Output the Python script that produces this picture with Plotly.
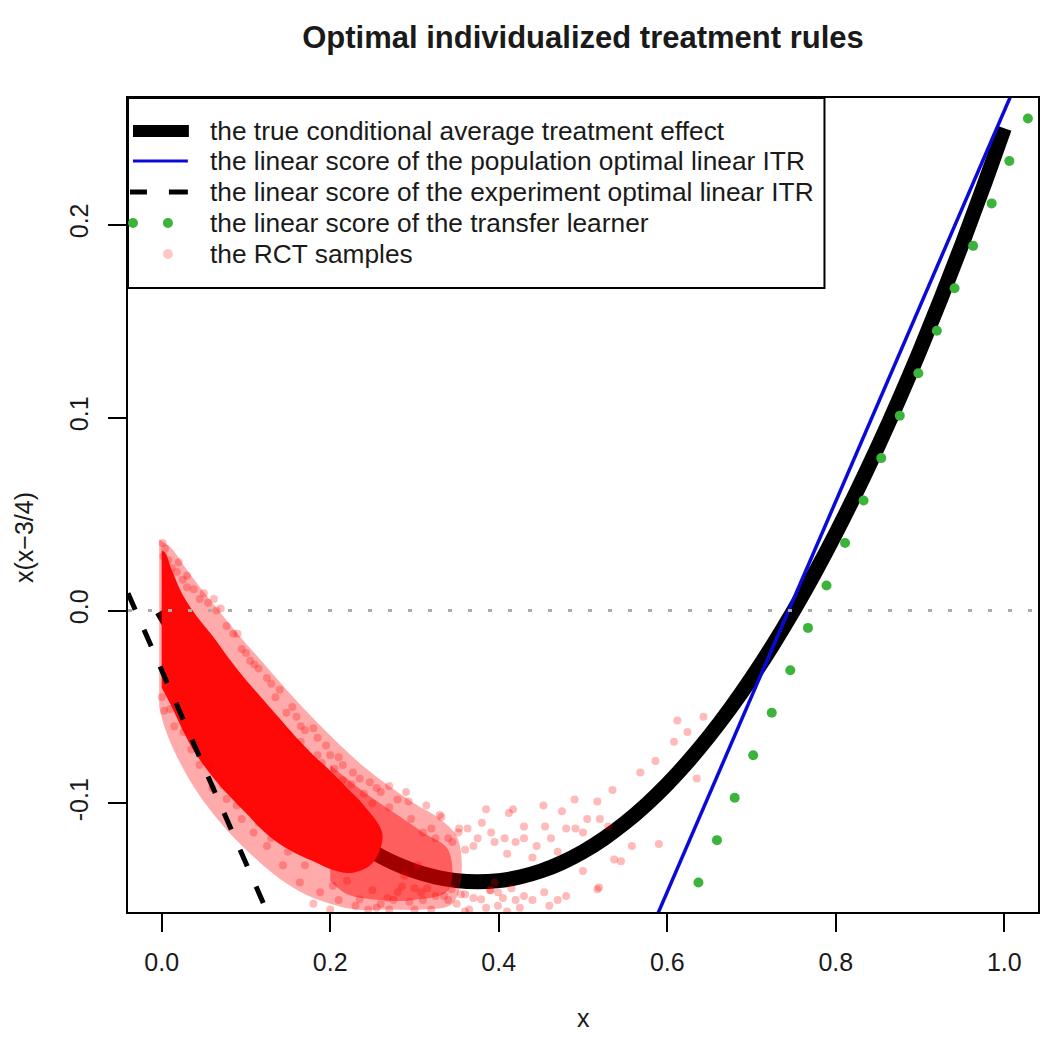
import plotly.graph_objects as go

# ---------------- data ----------------
# true conditional average treatment effect x(x-3/4)
cate_x = [0, 0.025, 0.05, 0.075, 0.1, 0.125, 0.15, 0.175, 0.2, 0.225, 0.25, 0.275, 0.3, 0.325,
          0.35, 0.375, 0.4, 0.425, 0.45, 0.475, 0.5, 0.525, 0.55, 0.575, 0.6, 0.625, 0.65, 0.675,
          0.7, 0.725, 0.75, 0.775, 0.8, 0.825, 0.85, 0.875, 0.9, 0.925, 0.95, 0.975, 1.0]
cate_y = [0, -0.018125, -0.035, -0.050625, -0.065, -0.078125, -0.09, -0.100625, -0.11, -0.118125,
          -0.125, -0.130625, -0.135, -0.138125, -0.14, -0.140625, -0.14, -0.138125, -0.135,
          -0.130625, -0.125, -0.118125, -0.11, -0.100625, -0.09, -0.078125, -0.065, -0.050625,
          -0.035, -0.018125, 0, 0.019375, 0.04, 0.061875, 0.085, 0.109375, 0.135, 0.161875,
          0.19, 0.219375, 0.25]

# linear scores (intercept, slope)
pop_intercept, pop_slope = -0.753, 1.012      # population optimal linear ITR (blue)
exp_intercept, exp_slope = -0.031, -1.0       # experiment optimal linear ITR (dashed)

# transfer learner linear score (green dots)
tl_x = [0.637, 0.659, 0.680, 0.702, 0.724, 0.746, 0.767, 0.789, 0.811, 0.833, 0.854, 0.876,
        0.898, 0.920, 0.941, 0.963, 0.985, 1.006, 1.028]
tl_y = [-0.141, -0.119, -0.097, -0.075, -0.053, -0.031, -0.009, 0.013, 0.035, 0.057, 0.079,
        0.101, 0.123, 0.145, 0.167, 0.189, 0.211, 0.233, 0.255]

# RCT samples: outer fringe of the cloud
halo_x = [-0.003, 0.010, 0.030, 0.060, 0.090, 0.120, 0.150, 0.180, 0.210, 0.240, 0.270, 0.300,
          0.330, 0.350, 0.356, 0.345, 0.310, 0.270, 0.230, 0.200, 0.170, 0.140, 0.110, 0.080,
          0.055, 0.032, 0.014, 0.003, -0.003]
halo_y = [0.037, 0.033, 0.021, 0.004, -0.012, -0.027, -0.042, -0.056, -0.069, -0.081, -0.091,
          -0.100, -0.108, -0.117, -0.135, -0.152, -0.155, -0.155, -0.155, -0.152, -0.147,
          -0.139, -0.128, -0.115, -0.102, -0.087, -0.072, -0.060, -0.050]
# RCT samples: medium-density band around the curve
band_x = [0.20, 0.24, 0.28, 0.31, 0.34, 0.34, 0.30, 0.26, 0.22, 0.20]
band_y = [-0.080, -0.094, -0.106, -0.115, -0.124, -0.145, -0.150, -0.150, -0.147, -0.140]
# RCT samples: dense solid core
core_x = [0.0, 0.004, 0.012, 0.025, 0.04, 0.06, 0.08, 0.10, 0.12, 0.14, 0.16, 0.18, 0.20, 0.22,
          0.24, 0.262, 0.25, 0.225, 0.20, 0.18, 0.16, 0.14, 0.12, 0.10, 0.08, 0.06, 0.04,
          0.025, 0.012, 0.0]
core_y = [0.031, 0.030, 0.021, 0.008, -0.002, -0.013, -0.025, -0.036, -0.046, -0.056, -0.066,
          -0.075, -0.083, -0.092, -0.101, -0.116, -0.131, -0.136, -0.134, -0.130, -0.126,
          -0.121, -0.114, -0.105, -0.096, -0.086, -0.074, -0.062, -0.050, -0.040]
# RCT samples: individual scattered points
rct_x = [0.001, 0.004, 0.002, 0.008, 0.012, 0.018, 0.025, 0.030, 0.038, 0.045, 0.055, 0.062,
         0.070, 0.077, 0.085, 0.095, 0.105, 0.115, 0.125, 0.140, 0.148, 0.160, 0.170, 0.180,
         0.195, 0.210, 0.227, 0.247, 0.260, 0.270, 0.290, 0.293, 0.314, 0.330, 0.332, 0.353,
         0.385, 0.412, 0.417, 0.453, 0.490, 0.517, 0.535, 0.568, 0.586, 0.608, 0.612, 0.624,
         0.643, 0.635,
         0.296, 0.320, 0.352, 0.363, 0.391, 0.407, 0.462, 0.491, 0.340, 0.370, 0.420, 0.470,
         0.440, 0.505, 0.380, 0.430,
         0.288, 0.304, 0.308, 0.344, 0.379, 0.399, 0.399, 0.430, 0.454, 0.517, 0.519, 0.537,
         0.558, 0.590, 0.280, 0.294, 0.260, 0.320, 0.350, 0.365, 0.410, 0.470, 0.335, 0.390,
         0.420, 0.360, 0.300, 0.500, 0.545,
         0.000, 0.003, 0.010, 0.015, 0.026, 0.035, 0.045, 0.058, 0.060, 0.073, 0.077, 0.089,
         0.095, 0.109, 0.115, 0.125, 0.130, 0.144, 0.150, 0.164, 0.170, 0.188, 0.203, 0.210,
         0.220, 0.235, 0.245, 0.250, 0.268, 0.200, 0.180, 0.230, 0.255, 0.275,
         0.150, 0.165, 0.190, 0.215, 0.240, 0.225, 0.205, 0.185, 0.250, 0.270,
         0.020, 0.030, 0.050, 0.065, 0.090, 0.100, 0.110, 0.130, 0.135, 0.155, 0.165, 0.185,
         0.200, 0.215, 0.235, 0.255, 0.280,
         0.270, 0.285, 0.310, 0.325, 0.340, 0.355, 0.370, 0.385, 0.395, 0.405, 0.415, 0.425,
         0.440, 0.460, 0.480, 0.300, 0.315, 0.360, 0.390,
         0.310, 0.325, 0.345, 0.360, 0.375, 0.395, 0.410, 0.430, 0.445, 0.455, 0.480, 0.500,
         0.520, 0.475, 0.530]
rct_y = [0.035, 0.032, 0.028, 0.026, 0.022, 0.020, 0.016, 0.012, 0.011, 0.006, 0.004, 0.006,
         0.001, -0.008, -0.012, -0.020, -0.026, -0.030, -0.035, -0.041, -0.053, -0.055, -0.062,
         -0.061, -0.070, -0.076, -0.084, -0.089, -0.094, -0.091, -0.094, -0.099, -0.101, -0.106,
         -0.107, -0.113, -0.103, -0.105, -0.103, -0.101, -0.098, -0.099, -0.093, -0.084, -0.078,
         -0.068, -0.057, -0.063, -0.055, -0.087,
         -0.108, -0.113, -0.115, -0.113, -0.115, -0.118, -0.118, -0.113, -0.118, -0.122, -0.120,
         -0.125, -0.128, -0.108, -0.110, -0.112,
         -0.1375, -0.132, -0.146, -0.1444, -0.1496, -0.146, -0.153, -0.148, -0.146, -0.1444,
         -0.1435, -0.129, -0.122, -0.121, -0.146, -0.151, -0.152, -0.155, -0.152, -0.155,
         -0.156, -0.150, -0.148, -0.145, -0.150, -0.147, -0.144, -0.135, -0.130,
         -0.045, -0.052, -0.051, -0.060, -0.063, -0.072, -0.080, -0.0804, -0.092, -0.0907,
         -0.0977, -0.101, -0.108, -0.115, -0.110, -0.122, -0.118, -0.132, -0.125, -0.141,
         -0.132, -0.146, -0.1427, -0.150, -0.140, -0.1496, -0.155, -0.145, -0.149, -0.155,
         -0.152, -0.153, -0.154, -0.150,
         -0.064, -0.068, -0.079, -0.088, -0.095, -0.090, -0.082, -0.075, -0.100, -0.102,
         0.025, 0.018, 0.009, 0.000, -0.012, -0.022, -0.028, -0.038, -0.045, -0.050, -0.060,
         -0.066, -0.075, -0.080, -0.087, -0.092, -0.098,
         -0.155, -0.143, -0.150, -0.148, -0.150, -0.147, -0.149, -0.154, -0.141, -0.149, -0.144,
         -0.154, -0.150, -0.153, -0.148, -0.155, -0.144, -0.156, -0.145,
         -0.115, -0.118, -0.120, -0.124, -0.118, -0.120, -0.126, -0.118, -0.122, -0.112, -0.113,
         -0.115, -0.108, -0.104, -0.112]

zero_y = 0.0

x_range = [-0.04, 1.04]
y_range = [-0.15625, 0.265625]
x_ticks = [0.0, 0.2, 0.4, 0.6, 0.8, 1.0]
x_ticktext = ["0.0", "0.2", "0.4", "0.6", "0.8", "1.0"]
y_ticks = [-0.1, 0.0, 0.1, 0.2]
y_ticktext = ["-0.1", "0.0", "0.1", "0.2"]

legend_labels = ["the true conditional average treatment effect",
                 "the linear score of the population optimal linear ITR",
                 "the linear score of the experiment optimal linear ITR",
                 "the linear score of the transfer learner",
                 "the RCT samples"]

# ---------------- figure ----------------
FONT = "Arial, Liberation Sans, sans-serif"
TXT = "#1a1a1a"
RED_PT = "rgba(255,0,0,0.27)"
GREEN = "#3cb43c"
BLUE = "#0a0ad8"

fig = go.Figure()

fig.add_trace(go.Scatter(x=cate_x, y=cate_y, mode="lines",
                         line=dict(color="black", width=15, shape="spline"),
                         showlegend=False, hoverinfo="skip"))
fig.add_trace(go.Scatter(x=halo_x, y=halo_y, mode="lines", fill="toself",
                         fillcolor="rgba(255,0,0,0.33)", line=dict(width=0, shape="spline"),
                         showlegend=False, hoverinfo="skip"))
fig.add_trace(go.Scatter(x=band_x, y=band_y, mode="lines", fill="toself",
                         fillcolor="rgba(255,0,0,0.45)", line=dict(width=0, shape="spline"),
                         showlegend=False, hoverinfo="skip"))
fig.add_trace(go.Scatter(x=core_x, y=core_y, mode="lines", fill="toself",
                         fillcolor="rgba(255,8,8,1.0)", line=dict(width=0, shape="spline"),
                         showlegend=False, hoverinfo="skip"))
fig.add_trace(go.Scatter(x=rct_x, y=rct_y, mode="markers",
                         marker=dict(color=RED_PT, size=8, line=dict(width=0)),
                         showlegend=False))

# population optimal (blue, abline)
pop_x = [x_range[0], x_range[1]]
pop_y = [pop_intercept + pop_slope * v for v in pop_x]
fig.add_trace(go.Scatter(x=pop_x, y=pop_y, mode="lines",
                         line=dict(color=BLUE, width=3.5), showlegend=False))
# experiment optimal (dashed, abline)
exp_x = [x_range[0], x_range[1]]
exp_y = [exp_intercept + exp_slope * v for v in exp_x]
fig.add_trace(go.Scatter(x=exp_x, y=exp_y, mode="lines",
                         line=dict(color="black", width=5, dash="18px,22px"), showlegend=False))
# transfer learner (green dots)
fig.add_trace(go.Scatter(x=tl_x, y=tl_y, mode="markers",
                         marker=dict(color=GREEN, size=10, line=dict(width=0)),
                         showlegend=False))
# horizontal reference at 0
fig.add_trace(go.Scatter(x=x_range, y=[zero_y, zero_y], mode="lines",
                         line=dict(color="#aaaaaa", width=3, dash="4px,16px"), showlegend=False))

# ---------------- layout geometry (page pixels; page body has an 8px margin) ----------------
OFF = 8
PLOT_L, PLOT_R, PLOT_T, PLOT_B = 128, 1040, 98, 912
FIG_W, FIG_H = 1050 - 2 * OFF, 1041 - 2 * OFF

def px2paper_x(px):
    return (px - PLOT_L) / (PLOT_R - PLOT_L)

def px2paper_y(py):
    return (PLOT_B - py) / (PLOT_B - PLOT_T)

shapes = []
shapes.append(dict(type="rect", xref="paper", yref="paper",
                   x0=px2paper_x(128), x1=px2paper_x(826), y0=px2paper_y(288), y1=px2paper_y(98),
                   line=dict(color="black", width=2), fillcolor="white", layer="above"))
rows = [131, 161, 192, 223, 254]
shapes.append(dict(type="line", xref="paper", yref="paper", x0=px2paper_x(133), x1=px2paper_x(189),
                   y0=px2paper_y(rows[0]), y1=px2paper_y(rows[0]), line=dict(color="black", width=12)))
shapes.append(dict(type="line", xref="paper", yref="paper", x0=px2paper_x(133), x1=px2paper_x(188),
                   y0=px2paper_y(rows[1]), y1=px2paper_y(rows[1]), line=dict(color=BLUE, width=3)))
for a, b in [(130, 147), (169, 188)]:
    shapes.append(dict(type="line", xref="paper", yref="paper", x0=px2paper_x(a), x1=px2paper_x(b),
                       y0=px2paper_y(rows[2]), y1=px2paper_y(rows[2]), line=dict(color="black", width=5)))
for cx in [133, 168]:
    shapes.append(dict(type="circle", xref="paper", yref="paper", xsizemode="pixel", ysizemode="pixel",
                       xanchor=px2paper_x(cx), yanchor=px2paper_y(rows[3]), x0=-5, x1=5, y0=-5, y1=5,
                       fillcolor=GREEN, line=dict(width=0)))
shapes.append(dict(type="circle", xref="paper", yref="paper", xsizemode="pixel", ysizemode="pixel",
                   xanchor=px2paper_x(168), yanchor=px2paper_y(rows[4]), x0=-5, x1=5, y0=-5, y1=5,
                   fillcolor="rgba(255,0,0,0.22)", line=dict(width=0)))

annotations = []
for lab, r in zip(legend_labels, rows):
    annotations.append(dict(text=lab, xref="paper", yref="paper", x=px2paper_x(208), y=px2paper_y(r),
                            xanchor="left", yanchor="middle", showarrow=False,
                            font=dict(family=FONT, size=26.3, color=TXT)))
# axis titles
annotations.append(dict(text="x", xref="paper", yref="paper", x=0.5, y=0, yshift=-(1018 - PLOT_B),
                        xanchor="center", yanchor="middle", showarrow=False,
                        font=dict(family=FONT, size=25, color=TXT)))
annotations.append(dict(text="x(x\u22123/4)", xref="paper", yref="paper", x=0, y=px2paper_y(538),
                        xshift=-(PLOT_L - 24), xanchor="center", yanchor="middle", showarrow=False,
                        textangle=-90, font=dict(family=FONT, size=25, color=TXT)))

fig.update_layout(
    width=FIG_W, height=FIG_H,
    margin=dict(l=PLOT_L - OFF, r=FIG_W - (PLOT_R - OFF), t=PLOT_T - OFF, b=FIG_H - (PLOT_B - OFF)),
    paper_bgcolor="white", plot_bgcolor="white",
    title=dict(text="<b>Optimal individualized treatment rules</b>", x=0.5, xref="paper",
               xanchor="center", y=1 - (37 - OFF) / FIG_H, yanchor="middle",
               font=dict(family=FONT, size=31, color=TXT)),
    shapes=shapes, annotations=annotations,
    showlegend=False,
)
axis_common = dict(showline=True, mirror=True, linecolor="black", linewidth=2,
                   ticks="outside", ticklen=18, tickwidth=2, tickcolor="black",
                   showgrid=False, zeroline=False,
                   tickfont=dict(family=FONT, size=25, color=TXT))
fig.update_xaxes(range=x_range, tickvals=x_ticks, ticktext=x_ticktext, ticklabelstandoff=9,
                 **axis_common)
fig.update_yaxes(range=y_range, tickvals=y_ticks, ticktext=y_ticktext, tickangle=-90,
                 ticklabelstandoff=10, **axis_common)

fig.write_html("out.html")
